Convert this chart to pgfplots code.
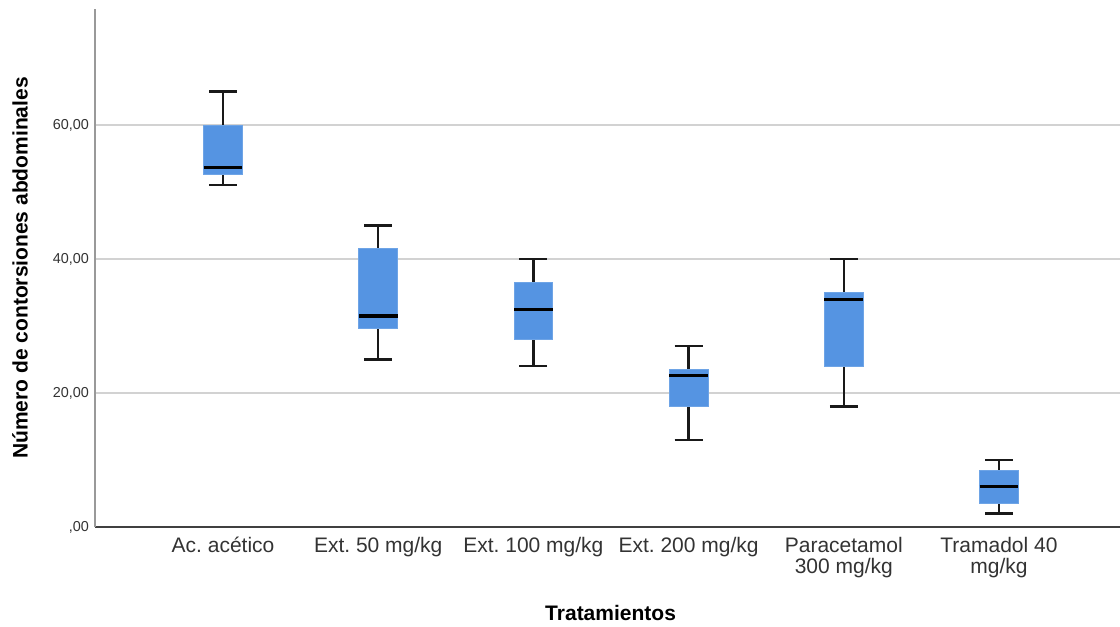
\documentclass[border=0pt]{standalone}
\usepackage{pgfplots}
\pgfplotsset{compat=1.18}
\usepgfplotslibrary{statistics}
\usepackage{fontspec}
\setmainfont{Liberation Sans}
\frenchspacing
\definecolor{boxblue}{RGB}{85,148,226}
\definecolor{gridgray}{RGB}{210,210,210}
\pgfplotsset{
  mybox/.style={
    boxplot prepared,
    boxplot/draw direction=y,
    fill=boxblue, draw=black, solid,
    boxplot/box extend=0.25,
    boxplot/whisker extend=0.18,
    boxplot/every box/.style={draw=boxblue!85!white, line width=0.6pt},
    boxplot/every whisker/.style={draw=black!90, line width=1.8pt},
    boxplot/every median/.style={draw=black, line width=2.4pt},
  }
}
\begin{document}
\begin{tikzpicture}
\begin{axis}[
  name=ax,
  at={(0,0)}, anchor=south west,
  scale only axis,
  width=768.75pt, height=388.5pt,
  xmin=0.175, xmax=6.78,
  ymin=0, ymax=77.3,
  axis x line*=bottom, axis y line*=left,
  axis line style={-},
  x axis line style={draw=black!75, line width=1pt},
  y axis line style={draw=black!40, line width=1.2pt},
  xtick={1,2,3,4,5,6},
  xticklabels={{Ac. acético},{Ext. 50 mg/kg},{Ext. 100 mg/kg},{Ext. 200 mg/kg},{Paracetamol\\300 mg/kg},{Tramadol 40\\mg/kg}},
  ytick={0,20,40,60},
  yticklabels={{,00},{20,00},{40,00},{60,00}},
  major tick length=0pt,
  ymajorgrids,
  grid style={draw=gridgray, line width=1.3pt},
  xticklabel style={font=\fontsize{15.75}{15.75}\selectfont, align=center, text=black!80, yshift=-4pt},
  yticklabel style={font=\fontsize{10.8}{12}\selectfont, text=black!80, xshift=-1pt},
  xlabel={Tratamientos},
  ylabel={Número de contorsiones abdominales},
  xlabel style={font=\fontsize{15.75}{18}\selectfont\bfseries, at={(axis description cs:0.503,-0.166)}, anchor=center},
  ylabel style={font=\fontsize{15.75}{18}\selectfont\bfseries, at={(axis description cs:-0.0732,0.5)}, anchor=center, rotate=0},
]
\addplot+[mybox, boxplot prepared={draw position=1, lower whisker=51, lower quartile=52.6, median=53.6, upper quartile=60, upper whisker=65}] coordinates {};
\addplot+[mybox, boxplot prepared={draw position=2, lower whisker=25, lower quartile=29.6, median=31.5, upper quartile=41.6, upper whisker=45}] coordinates {};
\addplot+[mybox, boxplot prepared={draw position=3, lower whisker=24, lower quartile=28, median=32.5, upper quartile=36.5, upper whisker=40}] coordinates {};
\addplot+[mybox, boxplot prepared={draw position=4, lower whisker=13, lower quartile=18, median=22.6, upper quartile=23.5, upper whisker=27}] coordinates {};
\addplot+[mybox, boxplot prepared={draw position=5, lower whisker=18, lower quartile=24, median=34, upper quartile=35, upper whisker=40}] coordinates {};
\addplot+[mybox, boxplot prepared={draw position=6, lower whisker=2, lower quartile=3.5, median=6, upper quartile=8.5, upper whisker=10}] coordinates {};
\end{axis}
\pgfresetboundingbox
\path (-71.25pt,-74.25pt) rectangle (768.75pt,395.25pt);
\end{tikzpicture}
\end{document}
